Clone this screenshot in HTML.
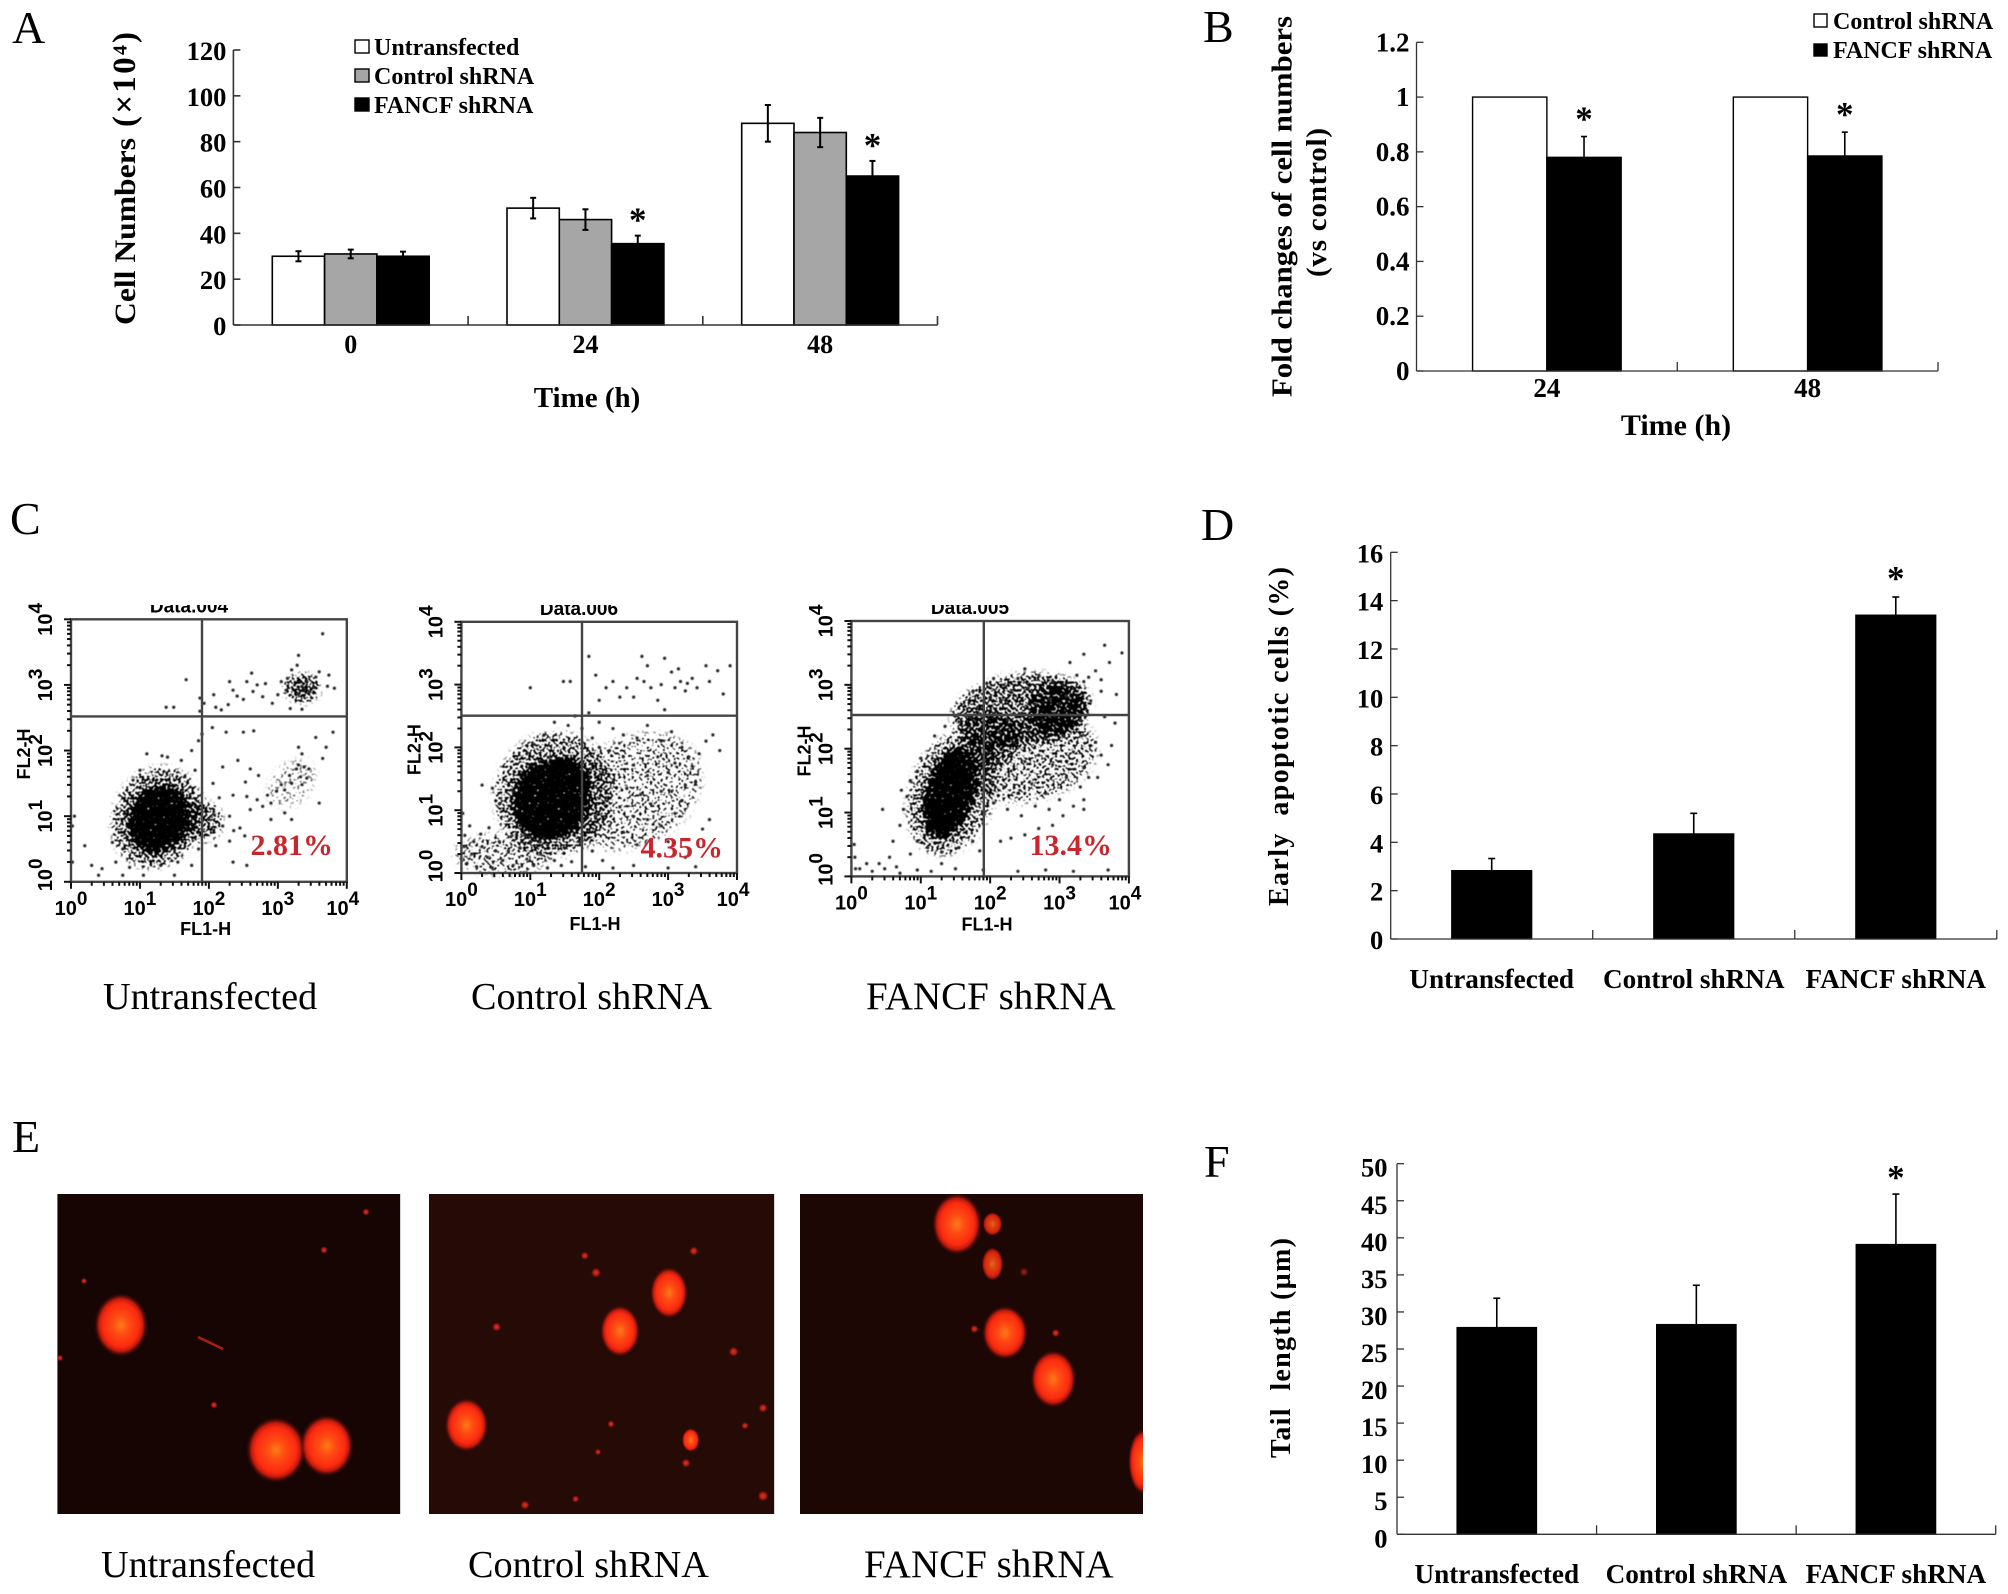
<!DOCTYPE html>
<html lang="en">
<head>
<meta charset="utf-8">
<title>FANCF shRNA figure panels</title>
<style>
html,body{margin:0;padding:0;background:#fff;}
svg{display:block;position:absolute;left:0;top:0;}
text{font-family:"Liberation Serif",serif;fill:#000;}
</style>
</head>
<body>
<svg id="figure" xmlns="http://www.w3.org/2000/svg" width="2008" height="1594" viewBox="0 0 2008 1594">
<defs>
<radialGradient id="cell" cx="50%" cy="50%" r="50%">
<stop offset="0" stop-color="#ff7c16"/>
<stop offset="0.3" stop-color="#ff4c13"/>
<stop offset="0.68" stop-color="#fb2a10"/>
<stop offset="0.82" stop-color="#c01a0c"/>
<stop offset="1" stop-color="#3a0a06" stop-opacity="0"/>
</radialGradient>
<radialGradient id="speck" cx="50%" cy="50%" r="50%">
<stop offset="0" stop-color="#e8301a"/>
<stop offset="0.5" stop-color="#a81c10"/>
<stop offset="1" stop-color="#3a0a06" stop-opacity="0"/>
</radialGradient>
<filter id="stipple" x="-25%" y="-25%" width="150%" height="150%" color-interpolation-filters="sRGB">
<feGaussianBlur in="SourceAlpha" stdDeviation="3.5" result="density"/>
<feTurbulence type="fractalNoise" baseFrequency="0.38" numOctaves="1" seed="7" result="noise"/>
<feColorMatrix in="noise" type="matrix" values="0 0 0 0 0  0 0 0 0 0  0 0 0 0 0  2.6 0 0 0 -0.62" result="noiseAlpha"/>
<feComposite in="density" in2="noiseAlpha" operator="arithmetic" k1="0" k2="1" k3="1" k4="-1" result="sum"/>
<feComponentTransfer in="sum" result="hard"><feFuncA type="linear" slope="6" intercept="0"/></feComponentTransfer>
<feGaussianBlur in="hard" stdDeviation="0.55"/>
</filter>
<filter id="dotBlur" x="-5%" y="-5%" width="110%" height="110%"><feGaussianBlur stdDeviation="0.45"/></filter>
<clipPath id="photo1"><rect x="57.3" y="1194" width="343" height="320"/></clipPath>
<clipPath id="photo2"><rect x="429" y="1194" width="345.3" height="320"/></clipPath>
<clipPath id="photo3"><rect x="800" y="1194" width="343" height="320"/></clipPath>
<clipPath id="headerClip"><rect x="0" y="605" width="1200" height="30"/></clipPath>
</defs>

<rect x="0" y="0" width="2008" height="1594" fill="#fff"/>

<!-- panel letters -->
<text x="12" y="43" font-size="46">A</text>
<text x="1203" y="42" font-size="46">B</text>
<text x="10" y="534" font-size="46">C</text>
<text x="1201" y="540" font-size="46">D</text>
<text x="12" y="1152" font-size="46">E</text>
<text x="1204" y="1177" font-size="46">F</text>

<!-- axis titles -->
<text transform="translate(135 325) rotate(-90)" font-size="30" font-weight="bold" textLength="187" lengthAdjust="spacingAndGlyphs">Cell Numbers</text>
<text transform="translate(135 127) rotate(-90)" font-size="33" font-weight="bold" textLength="95" lengthAdjust="spacing">(×10⁴)</text>
<text x="587" y="407" font-size="29" font-weight="bold" text-anchor="middle">Time (h)</text>

<text transform="translate(1291.5 397) rotate(-90)" font-size="29" font-weight="bold" textLength="381" lengthAdjust="spacingAndGlyphs">Fold changes of cell numbers</text>
<text transform="translate(1326 277) rotate(-90)" font-size="29" font-weight="bold" textLength="149" lengthAdjust="spacing">(vs control)</text>
<text x="1676" y="435" font-size="30" font-weight="bold" text-anchor="middle">Time (h)</text>

<text transform="translate(1288 906) rotate(-90)" font-size="28" font-weight="bold" textLength="339" lengthAdjust="spacing">Early&#160;&#160;apoptotic cells (%)</text>
<text transform="translate(1290 1458) rotate(-90)" font-size="28" font-weight="bold" textLength="220" lengthAdjust="spacing">Tail&#160;&#160;length (µm)</text>

<!-- legends -->
<g>
<rect x="355" y="40" width="14" height="13" fill="#fff" stroke="#000" stroke-width="1.4"/>
<text x="374" y="55" font-size="24" font-weight="bold">Untransfected</text>
<rect x="355" y="69" width="14" height="13" fill="#a6a6a6" stroke="#000" stroke-width="1.4"/>
<text x="374" y="84" font-size="24" font-weight="bold">Control shRNA</text>
<rect x="355" y="98" width="14" height="13" fill="#000" stroke="#000" stroke-width="1.4"/>
<text x="374" y="113" font-size="24" font-weight="bold">FANCF shRNA</text>
</g>
<g>
<rect x="1814" y="14" width="13" height="13" fill="#fff" stroke="#000" stroke-width="1.4"/>
<text x="1833" y="29" font-size="24" font-weight="bold">Control shRNA</text>
<rect x="1814" y="44" width="13" height="12" fill="#000" stroke="#000" stroke-width="1.4"/>
<text x="1833" y="58" font-size="24" font-weight="bold">FANCF shRNA</text>
</g>

<!-- captions -->
<text x="103" y="1009" font-size="38.2">Untransfected</text>
<text x="471" y="1009" font-size="38.2">Control shRNA</text>
<text x="866" y="1009" font-size="39">FANCF shRNA</text>
<text x="101" y="1577" font-size="38.2">Untransfected</text>
<text x="468" y="1577" font-size="38.2">Control shRNA</text>
<text x="864" y="1577" font-size="39">FANCF shRNA</text>

<!-- panel E photographs -->
<g clip-path="url(#photo1)">
<rect x="57.3" y="1194" width="343" height="320" fill="#170504"/>
<ellipse cx="121" cy="1325" rx="27" ry="32" fill="url(#cell)"/>
<ellipse cx="276" cy="1450" rx="30" ry="33" fill="url(#cell)"/>
<ellipse cx="326.7" cy="1445.7" rx="27" ry="31" fill="url(#cell)"/>
<line x1="198" y1="1337" x2="223" y2="1349" stroke="#a8200f" stroke-width="2.4"/>
<circle cx="324" cy="1250" r="4" fill="url(#speck)"/>
<circle cx="366" cy="1212" r="4" fill="url(#speck)"/>
<circle cx="214" cy="1405" r="4" fill="url(#speck)"/>
<circle cx="84" cy="1281" r="3.5" fill="url(#speck)"/>
<circle cx="60" cy="1358" r="3.5" fill="url(#speck)"/>
</g>
<g clip-path="url(#photo2)">
<rect x="429" y="1194" width="345.3" height="320" fill="#260a06"/>
<ellipse cx="669" cy="1292.7" rx="19" ry="26" fill="url(#cell)"/>
<ellipse cx="620" cy="1331" rx="20" ry="26" fill="url(#cell)"/>
<ellipse cx="466.5" cy="1425" rx="22" ry="27" fill="url(#cell)"/>
<ellipse cx="690.7" cy="1440" rx="9" ry="12" fill="url(#cell)"/>
<circle cx="693.8" cy="1251" r="5" fill="url(#speck)"/>
<circle cx="584.7" cy="1255.7" r="4.5" fill="url(#speck)"/>
<circle cx="596" cy="1272.7" r="5.5" fill="url(#speck)"/>
<circle cx="733.6" cy="1351.7" r="5.5" fill="url(#speck)"/>
<circle cx="763" cy="1408" r="5" fill="url(#speck)"/>
<circle cx="763" cy="1496" r="6" fill="url(#speck)"/>
<circle cx="525" cy="1505" r="5" fill="url(#speck)"/>
<circle cx="611" cy="1424" r="4" fill="url(#speck)"/>
<circle cx="686" cy="1463" r="5" fill="url(#speck)"/>
<circle cx="598" cy="1452" r="3.5" fill="url(#speck)"/>
<circle cx="496.6" cy="1327" r="5" fill="url(#speck)"/>
<circle cx="575.6" cy="1499" r="4" fill="url(#speck)"/>
<circle cx="745" cy="1425.7" r="4" fill="url(#speck)"/>
</g>
<g clip-path="url(#photo3)">
<rect x="800" y="1194" width="343" height="320" fill="#1c0705"/>
<ellipse cx="957" cy="1224" rx="25" ry="31" fill="url(#cell)"/>
<ellipse cx="992.5" cy="1224" rx="10" ry="12" fill="url(#cell)" opacity="0.85"/>
<ellipse cx="992.5" cy="1264" rx="11" ry="17" fill="url(#cell)" opacity="0.85"/>
<ellipse cx="1005" cy="1332.7" rx="23" ry="27" fill="url(#cell)"/>
<ellipse cx="1053.4" cy="1379" rx="23" ry="29" fill="url(#cell)"/>
<ellipse cx="1143" cy="1461.7" rx="15" ry="33" fill="url(#cell)"/>
<circle cx="974.4" cy="1329" r="4.5" fill="url(#speck)"/>
<circle cx="1055.7" cy="1333" r="4.5" fill="url(#speck)"/>
<circle cx="1024" cy="1272" r="5" fill="url(#speck)" opacity="0.6"/>
</g>
</svg>

<script>
// ---------- Panel A data ----------
const aCategories = ['0', '24', '48'];
const aTicks = [0, 20, 40, 60, 80, 100, 120];
const aUntransfected = [30, 51, 88];
const aUntransfectedErr = [2.2, 4.5, 8];
const aControl = [31, 46, 84];
const aControlErr = [1.9, 4.5, 6.4];
const aFancf = [30, 35.5, 65];
const aFancfErr = [2, 3.5, 6.6];
const aFancfStars = [false, true, true];

// ---------- Panel B data ----------
const bCategories = ['24', '48'];
const bTicks = [0, 0.2, 0.4, 0.6, 0.8, 1, 1.2];
const bControl = [1, 1];
const bControlErr = [0, 0];
const bFancf = [0.78, 0.785];
const bFancfErr = [0.076, 0.087];
const bFancfStars = [true, true];

// ---------- Panel D data ----------
const dCategories = ['Untransfected', 'Control shRNA', 'FANCF shRNA'];
const dTicks = [0, 2, 4, 6, 8, 10, 12, 14, 16];
const dApoptotic = [2.83, 4.35, 13.4];
const dApoptoticErr = [0.5, 0.85, 0.75];
const dStars = [false, false, true];

// ---------- Panel F data ----------
const fCategories = ['Untransfected', 'Control shRNA', 'FANCF shRNA'];
const fTicks = [0, 5, 10, 15, 20, 25, 30, 35, 40, 45, 50];
const fTailLength = [27.9, 28.3, 39.1];
const fTailLengthErr = [3.95, 5.3, 6.8];
const fStars = [false, false, true];

// ---------- Panel C data: log10(FL1), log10(FL2) events ----------
const flowDecades = [0, 1, 2, 3, 4];
const flowMinor = [2, 3, 4, 5, 6, 7, 8, 9];
const flowHeaders = ['Data.004', 'Data.006', 'Data.005'];
const flowPercents = ['2.81%', '4.35%', '13.4%'];
// density clouds: centre x, centre y, x radius, y radius (decades), tilt degrees, density 0-1
const flowClouds1 = [
  [1.25,0.98,0.62,0.78,25,0.36],[1.9,0.92,0.28,0.3,0,0.4],
  [1.27,0.96,0.42,0.52,28,1],[1.2,0.85,0.3,0.34,10,1],
  [3.35,2.95,0.24,0.2,0,0.5],[3.2,1.5,0.4,0.3,-45,0.1]
];
const flowClouds2 = [
  [0.6,0.3,0.7,0.32,0,0.2],[2.5,1.3,1.05,0.85,-30,0.17],[1.35,1.25,0.85,0.98,25,0.34],
  [1.3,1.17,0.54,0.64,30,1],[1.45,1.4,0.38,0.44,20,1]
];
const flowClouds3 = [
  [2.6,1.85,0.95,0.65,-15,0.26],[2.45,2.6,1.0,0.55,-8,0.42],[2.0,2.15,0.42,0.45,0,0.32],
  [2.98,2.62,0.4,0.4,-20,0.56],[1.45,1.3,0.6,0.98,18,0.32],
  [1.42,1.3,0.34,0.72,16,1]
];
const flowDots1 = [
[3.39,2.93],[3.35,2.98],[3.45,2.9],[3.52,2.96],[3.3,2.86],[3.42,3.05],[3.55,3.12],[3.2,3.23],[3.14,3.1],[3.28,3.3],[3.05,3.05],[3.0,2.85],[3.12,2.92],[3.6,3.2],[3.74,3.15],[3.82,2.95],[3.72,2.98],[3.3,3.45],[3.65,3.78],
[2.64,2.9],[2.7,3.0],[2.55,3.05],[2.78,2.82],[2.5,2.78],[2.41,2.83],[2.35,2.92],[2.28,2.7],[2.18,2.62],[2.07,2.85],[2.1,2.66],[2.62,3.18],[2.3,3.05],[2.82,3.02],[2.92,2.72],[3.18,2.64],[3.35,2.63],[1.67,3.08],[1.38,2.66],[1.49,2.66],[1.87,2.8],[1.87,2.6],[1.93,2.72],
[2.0,0.95],[2.08,1.02],[2.2,0.85],[2.3,1.0],[2.36,0.78],[2.45,0.82],[2.52,0.7],[2.6,1.1],[2.7,1.25],[2.78,1.15],[2.85,1.32],[2.9,1.2],[2.98,1.38],[3.05,1.48],[3.1,1.4],[3.17,1.62],[3.2,1.5],[3.27,1.72],[3.33,1.6],[3.38,1.75],[3.45,1.72],[3.42,1.58],[3.3,1.78],[3.35,1.48],[3.6,1.2],[3.35,1.95],[3.3,2.05],[3.65,1.88],[3.7,2.05],[3.8,2.28],[3.55,2.2],
[2.05,2.35],[2.25,2.28],[2.5,2.28],[2.65,2.3],[2.42,1.85],[2.6,1.72],[2.53,1.52],[2.72,1.62],[2.2,1.75],[2.06,1.5],[2.15,1.28],[2.35,1.32],[2.55,1.3],[2.9,0.95],[3.1,1.05],[3.2,0.95],[2.1,0.55],[2.3,0.62],[2.35,0.3],[2.55,0.25],[1.85,0.5],[1.75,0.25],
[1.8,1.7],[1.6,1.85],[1.4,1.9],[1.1,1.95],[1.32,1.92],[1.85,2.15],[1.9,2.25],[1.65,1.6],[1.75,2.0],[0.9,1.55],[1.0,1.7],
[0.6,0.6],[0.75,0.5],[0.2,0.55],[0.3,0.25],[0.45,0.2],[0.65,0.3],[0.85,0.22],[1.3,0.25],[1.55,0.3],[1.05,0.1],[0.4,0.1],[0.75,0.1],[1.5,0.1],[0.02,0.85],[0.05,1.0],[0.02,0.3]
];
const flowDots2 = [
[3.1,2.95],[3.18,3.05],[3.25,2.9],[3.28,3.02],[3.35,3.1],[3.42,2.95],[3.05,3.2],[3.15,3.25],[3.6,3.05],[3.72,3.22],[3.9,3.3],[3.8,2.85],[3.55,3.3],[2.95,3.42],[2.7,3.3],[2.62,3.45],[2.55,3.1],[2.4,2.95],[2.3,2.8],[2.2,3.05],[2.5,2.8],[2.75,2.95],[2.85,2.75],[2.95,2.6],[2.1,2.95],[1.95,3.15],[1.85,3.45],[1.58,3.05],[1.48,3.05],[1.0,2.95],[2.0,2.75],[2.65,3.05],[2.9,3.0],
[2.0,2.4],[2.2,2.3],[2.35,2.2],[2.55,2.15],[2.7,2.35],[2.9,2.1],[3.05,2.25],[3.2,2.0],[3.3,1.85],[3.35,1.7],[3.1,1.75],[3.0,1.6],[2.85,1.85],[2.7,1.55],[2.5,1.72],[2.35,1.85],[2.15,1.95],[2.0,2.0],[2.05,1.6],[2.2,1.45],[2.4,1.35],[2.6,1.25],[2.75,1.1],[2.9,1.3],[3.05,1.3],[3.2,1.15],[3.1,0.95],[2.9,0.75],[2.7,0.85],[2.5,0.9],[2.3,1.05],[2.1,1.2],[1.95,0.9],[2.15,0.75],[2.35,0.65],[2.55,0.45],[2.75,0.4],[3.0,0.5],[3.25,0.25],[3.5,0.7],[3.6,0.85],[3.45,1.9],[3.55,2.1],[3.65,2.2],[3.75,1.95],[3.4,1.45],[3.25,1.4],
[1.9,2.15],[1.75,2.3],[1.55,2.35],[1.35,2.4],[1.2,2.2],[1.05,2.05],[0.95,1.9],[1.65,2.5],[1.85,2.55],[0.75,1.3],[0.55,1.1],[0.45,1.35],[0.3,1.4],[0.7,0.85],[0.85,0.75],[1.0,0.5],[1.25,0.45],[1.5,0.4],[1.7,0.5],[1.9,0.35],[2.05,0.2],
[0.08,0.15],[0.15,0.3],[0.22,0.1],[0.3,0.42],[0.38,0.25],[0.45,0.08],[0.55,0.5],[0.6,0.2],[0.68,0.35],[0.75,0.12],[0.85,0.4],[0.95,0.22],[1.05,0.12],[1.15,0.3],[1.25,0.08],[1.35,0.2],[0.05,0.6],[0.12,0.75],[0.18,0.5],[0.28,0.62],[0.4,0.72],[0.5,0.35],[0.02,0.95],[0.04,0.42],[0.72,0.58],[0.92,0.62],[1.45,0.12],[1.6,0.18],[1.8,0.1],[2.2,0.08],[2.5,0.12],[3.0,0.08],[3.4,0.1]
];
const flowDots3 = [
[3.0,2.7],[2.92,2.55],[3.08,2.6],[2.85,2.78],[3.1,2.82],[3.2,2.95],[3.05,3.0],[2.9,3.05],[3.25,3.15],[3.35,3.05],[3.42,3.12],[3.52,3.22],[3.6,3.08],[3.72,3.35],[3.9,3.5],[3.65,3.62],[3.35,3.48],[3.15,3.35],[2.7,3.15],[2.5,3.25],[2.4,3.1],[2.2,3.0],[2.05,3.1],[1.95,3.02],[2.0,2.8],[1.82,2.65],[1.75,2.9],[2.15,2.75],[2.3,2.88],[2.55,2.95],[2.65,2.7],[2.75,2.45],[2.45,2.55],[2.25,2.45],[2.05,2.55],[3.3,2.45],[3.32,2.2],[3.45,2.75],[3.65,2.5],[3.8,2.4],[3.52,2.1],[3.75,2.05],[3.6,2.9],[3.82,2.85],
[1.55,2.42],[1.7,2.5],[1.35,2.35],[1.2,2.2],[1.9,2.35],[2.15,2.25],[2.35,2.1],[2.55,2.3],[2.8,2.15],[3.05,2.2],[3.2,1.95],[3.35,1.7],[3.42,1.55],[3.3,1.4],[3.1,1.55],[2.9,1.75],[2.7,1.9],[2.5,1.8],[2.3,1.65],[2.1,1.8],[2.0,1.5],[2.2,1.4],[2.4,1.3],[2.6,1.45],[2.8,1.3],[3.0,1.2],[3.2,1.1],[3.35,1.05],[3.05,0.95],[2.85,1.05],[2.65,1.1],[2.45,0.95],[2.25,1.05],[2.05,1.15],[3.35,1.2],[3.55,1.55],[3.6,1.9],[3.7,1.75],[2.9,0.8],[2.7,0.75],[2.5,0.65],[2.3,0.6],[2.15,0.55],
[0.95,1.65],[1.0,1.85],[0.85,1.5],[0.8,1.25],[0.72,1.35],[0.75,1.05],[0.7,0.8],[0.95,0.55],[1.1,0.45],[1.3,0.38],[1.55,0.45],[1.75,0.55],[1.85,0.4],[1.3,0.2],[0.85,0.35],[0.65,0.15],[0.48,0.12],[0.55,0.3],[0.4,0.2],[0.3,0.08],[0.22,0.2],[0.12,0.12],[0.05,0.3],[0.04,0.5],[0.06,0.12],[0.7,0.05],[0.95,0.1],[1.15,0.08],[1.5,0.12],[1.9,0.1],[2.4,0.08],[2.8,0.1],[3.2,0.08],[3.7,0.1],[0.45,1.05],[0.6,0.55]
];

// ---------- drawing helpers ----------
const SVG_NS = 'http://www.w3.org/2000/svg';
const root = document.getElementById('figure');
function make(tag, parent, attrs) {
  const n = document.createElementNS(SVG_NS, tag);
  for (const k in attrs) n.setAttribute(k, attrs[k]);
  parent.appendChild(n);
  return n;
}
function label(parent, x, y, str, size, anchor, weight) {
  const t = make('text', parent, {x: x, y: y, 'font-size': size, 'text-anchor': anchor, 'font-weight': weight});
  t.textContent = str;
  return t;
}

function drawBarChart(name, geom, categories, ticks, series) {
  const g = make('g', root, {});
  
  
  const yScale = function (v) {
    return geom.yBase - (v / ticks[ticks.length - 1]) * (geom.yBase - geom.yTop);
  };
  const groupW = (geom.x1 - geom.x0) / categories.length;
  const xScale = function (groupIndex, seriesIndex) {
    return geom.x0 + groupW * (groupIndex + 0.5) + (seriesIndex - (series.length - 1) / 2) * geom.barW;
  };

  series.forEach(function (s, si) {
    s.values.forEach(function (v, gi) {
      const cx = xScale(gi, si);
      const top = yScale(v);
      const bar = make('rect', g, {x: cx - geom.barW / 2, y: top, width: geom.barW, height: geom.yBase - top, fill: s.fill, stroke: '#000', 'stroke-width': geom.barStroke});
      
      
      const e = s.errors[gi];
      if (e > 0) {
        const hi = yScale(v + e);
        const lo = yScale(v - e);
        const stem = make('line', g, {x1: cx, y1: hi, x2: cx, y2: lo, stroke: '#000', 'stroke-width': geom.errStroke});
        
        
        const capHi = make('line', g, {x1: cx - geom.cap, y1: hi, x2: cx + geom.cap, y2: hi, stroke: '#000', 'stroke-width': geom.errStroke});
        
        
        const capLo = make('line', g, {x1: cx - geom.cap, y1: lo, x2: cx + geom.cap, y2: lo, stroke: '#000', 'stroke-width': geom.errStroke});
        
        
      }
      if (s.stars && s.stars[gi]) {
        const star = label(g, cx, yScale(v + e) - geom.starGap + 17, '*', 35, 'middle', 'bold');
        
        
      }
    });
  });

  const yAxis = make('line', g, {x1: geom.x0, y1: geom.yTop, x2: geom.x0, y2: geom.yBase, stroke: '#333', 'stroke-width': geom.axisStroke});
  
  
  const xAxis = make('line', g, {x1: geom.x0, y1: geom.yBase, x2: geom.x1, y2: geom.yBase, stroke: '#333', 'stroke-width': geom.axisStroke});
  
  

  ticks.forEach(function (t) {
    const y = yScale(t);
    const tick = make('line', g, {x1: geom.x0, y1: y, x2: geom.x0 + 7, y2: y, stroke: '#333', 'stroke-width': geom.axisStroke});
    
    
    const lab = label(g, geom.x0 - geom.tickGap, y + geom.tickDrop, String(t), geom.tickSize, 'end', 'bold');
    
    
  });

  categories.forEach(function (c, i) {
    const right = geom.x0 + groupW * (i + 1);
    const sep = make('line', g, {x1: right, y1: geom.yBase - 9, x2: right, y2: geom.yBase, stroke: '#333', 'stroke-width': geom.axisStroke});
    
    
    const lab = label(g, geom.x0 + groupW * (i + 0.5), geom.catY, c, geom.catSize, 'middle', 'bold');
    
    
  });
}

drawBarChart('panel-a-chart',
  {x0: 233.4, x1: 937.5, yBase: 325, yTop: 50, barW: 52.3, barStroke: 1.6, errStroke: 2, cap: 3, axisStroke: 1.6, starGap: 21, tickGap: 7, tickDrop: 10, tickSize: 26.5, catY: 353, catSize: 26},
  aCategories, aTicks, [
    {key: 'untransfected', fill: '#fff', values: aUntransfected, errors: aUntransfectedErr},
    {key: 'control', fill: '#a6a6a6', values: aControl, errors: aControlErr},
    {key: 'fancf', fill: '#000', values: aFancf, errors: aFancfErr, stars: aFancfStars}
  ]);
drawBarChart('panel-b-chart',
  {x0: 1416.5, x1: 1938, yBase: 371, yTop: 42.3, barW: 74.3, barStroke: 1.4, errStroke: 1.6, cap: 3, axisStroke: 1.3, starGap: 23, tickGap: 7, tickDrop: 9, tickSize: 27, catY: 397, catSize: 27},
  bCategories, bTicks, [
    {key: 'control', fill: '#fff', values: bControl, errors: bControlErr},
    {key: 'fancf', fill: '#000', values: bFancf, errors: bFancfErr, stars: bFancfStars}
  ]);
drawBarChart('panel-d-chart',
  {x0: 1390.7, x1: 1996.8, yBase: 939, yTop: 552.3, barW: 80, barStroke: 1.2, errStroke: 1.6, cap: 3.5, axisStroke: 1.3, starGap: 24, tickGap: 7.5, tickDrop: 10, tickSize: 26.5, catY: 988, catSize: 27.2},
  dCategories, dTicks, [
    {key: 'apoptotic', fill: '#000', values: dApoptotic, errors: dApoptoticErr, stars: dStars}
  ]);
drawBarChart('panel-f-chart',
  {x0: 1397, x1: 1995.7, yBase: 1534.3, yTop: 1163.7, barW: 79.5, barStroke: 1.2, errStroke: 1.6, cap: 3.5, axisStroke: 1.3, starGap: 22, tickGap: 9.5, tickDrop: 13, tickSize: 26.5, catY: 1583, catSize: 27.2},
  fCategories, fTicks, [
    {key: 'tail-length', fill: '#000', values: fTailLength, errors: fTailLengthErr, stars: fStars}
  ]);

function drawFlowPlot(name, box, header, percent, clouds, dots) {
  const g = make('g', root, {});
  
  
  const xScale = function (d) { return box.left + d * (box.right - box.left) / 4; };
  const yScale = function (d) { return box.bottom - d * (box.bottom - box.top) / 4; };

  const cloudLayer = make('g', g, {filter: 'url(#stipple)'});
  
  
  clouds.forEach(function (c) {
    const cx = xScale(c[0]);
    const cy = yScale(c[1]);
    const e = make('ellipse', cloudLayer, {
      cx: cx, cy: cy,
      rx: xScale(c[2]) - xScale(0),
      ry: yScale(0) - yScale(c[3]),
      transform: 'rotate(' + c[4] + ' ' + cx + ' ' + cy + ')',
      fill: '#000', opacity: c[5]
    });
    
    
  });

  const dotLayer = make('g', g, {filter: 'url(#dotBlur)'});
  
  
  dots.forEach(function (d) {
    const p = make('circle', dotLayer, {cx: xScale(d[0]), cy: yScale(d[1]), r: 1.6, fill: '#222'});
    
    
  });

  const frame = make('rect', g, {x: box.left, y: box.top, width: box.right - box.left, height: box.bottom - box.top, fill: 'none', stroke: '#444', 'stroke-width': 2.4});
  
  
  const vGate = make('line', g, {x1: box.vGate, y1: box.top, x2: box.vGate, y2: box.bottom, stroke: '#444', 'stroke-width': 2.4});
  
  
  const hGate = make('line', g, {x1: box.left, y1: box.hGate, x2: box.right, y2: box.hGate, stroke: '#444', 'stroke-width': 2.4});
  
  

  flowDecades.forEach(function (dec, i) {
    const mx = make('line', g, {x1: xScale(dec), y1: box.bottom, x2: xScale(dec), y2: box.bottom + 7, stroke: '#111', 'stroke-width': 2});
    
    
    const my = make('line', g, {x1: box.left - 7, y1: yScale(dec), x2: box.left, y2: yScale(dec), stroke: '#111', 'stroke-width': 2});
    
    

    if (i < flowDecades.length - 1) {
      flowMinor.forEach(function (m) {
        const d = dec + Math.log10(m);
        const tx = make('line', g, {x1: xScale(d), y1: box.bottom, x2: xScale(d), y2: box.bottom + 4, stroke: '#111', 'stroke-width': 2});
        
        
        const ty = make('line', g, {x1: box.left - 4, y1: yScale(d), x2: box.left, y2: yScale(d), stroke: '#111', 'stroke-width': 2});
        
        
      });
    }

    const lx = make('text', g, {x: xScale(dec) - (i === 4 ? 4 : 0), y: box.bottom + 33, 'font-size': 20, 'font-weight': 'bold', 'text-anchor': 'middle', fill: '#222'});
    
    
    lx.style.fontFamily = '"Liberation Sans",sans-serif';
    lx.appendChild(document.createTextNode('10'));
    const sx = make('tspan', lx, {dy: -10, 'font-size': 19});
    sx.textContent = String(dec);

    const ty0 = yScale(dec) - (i === 0 ? 7 : 0);
    const tx0 = box.left - 19;
    const ly = make('text', g, {transform: 'translate(' + tx0 + ' ' + ty0 + ') rotate(-90)', 'font-size': 20, 'font-weight': 'bold', 'text-anchor': 'middle', fill: '#222'});
    
    
    ly.style.fontFamily = '"Liberation Sans",sans-serif';
    ly.appendChild(document.createTextNode('10'));
    const sy = make('tspan', ly, {dy: -10, 'font-size': 19});
    sy.textContent = String(dec);
  });

  const hd = make('text', g, {x: box.headerX, y: box.top - 7, 'font-size': 19, 'font-weight': 'bold', 'text-anchor': 'middle', 'clip-path': 'url(#headerClip)', fill: '#444'});
  
  
  hd.style.fontFamily = '"Liberation Sans",sans-serif';
  hd.textContent = header;

  const fl1 = make('text', g, {x: box.fl1X, y: box.bottom + box.fl1Drop, 'font-size': 18, 'font-weight': 'bold', 'text-anchor': 'middle', fill: '#222'});
  
  
  fl1.style.fontFamily = '"Liberation Sans",sans-serif';
  fl1.textContent = 'FL1-H';

  const fl2 = make('text', g, {transform: 'translate(' + (box.left - 41) + ' ' + box.fl2Y + ') rotate(-90)', 'font-size': 18, 'font-weight': 'bold', 'text-anchor': 'middle', fill: '#222'});
  
  
  fl2.style.fontFamily = '"Liberation Sans",sans-serif';
  fl2.textContent = 'FL2-H';

  const pct = make('text', g, {x: box.pctX, y: box.pctY, 'font-size': 30, 'font-weight': 'bold', 'text-anchor': 'end'});
  
  
  pct.style.fill = '#c8262c';
  pct.textContent = percent;
}

drawFlowPlot('panel-c-flow-untransfected',
  {left: 71, right: 346.8, top: 619.3, bottom: 881.8, vGate: 202, hGate: 716.4, headerX: 189, fl1X: 205.6, fl1Drop: 53, fl2Y: 754, pctX: 333, pctY: 855},
  flowHeaders[0], flowPercents[0], flowClouds1, flowDots1);
drawFlowPlot('panel-c-flow-control',
  {left: 461.4, right: 737, top: 621.8, bottom: 873, vGate: 582, hGate: 715.7, headerX: 579, fl1X: 595, fl1Drop: 57, fl2Y: 749.6, pctX: 723, pctY: 857.5},
  flowHeaders[1], flowPercents[1], flowClouds2, flowDots2);
drawFlowPlot('panel-c-flow-fancf',
  {left: 851.4, right: 1128.9, top: 621, bottom: 876.4, vGate: 983.8, hGate: 715, headerX: 970, fl1X: 987, fl1Drop: 54, fl2Y: 751, pctX: 1112, pctY: 855},
  flowHeaders[2], flowPercents[2], flowClouds3, flowDots3);
</script>
</body>
</html>
